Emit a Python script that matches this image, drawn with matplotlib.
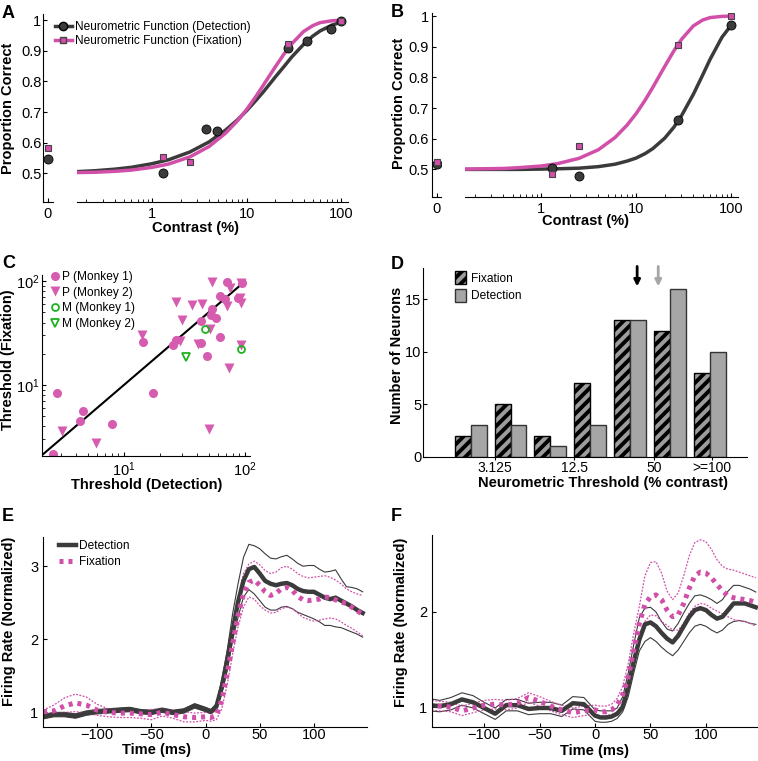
import numpy as np
import matplotlib.pyplot as plt
from matplotlib.lines import Line2D
from matplotlib.patches import Patch
from matplotlib.ticker import NullFormatter

plt.rcParams['font.family'] = ['Liberation Sans', 'DejaVu Sans']
plt.rcParams['mathtext.fontset'] = 'custom'
plt.rcParams['mathtext.rm'] = 'Liberation Sans'
plt.rcParams['mathtext.default'] = 'rm'
plt.rcParams['hatch.color'] = 'black'
plt.rcParams['hatch.linewidth'] = 2.8
plt.rcParams['xtick.direction'] = 'in'
plt.rcParams['ytick.direction'] = 'in'
plt.rcParams['font.size'] = 10.5

DARK = '#3b3b3b'
PINK = '#d14fa9'
GREEN = '#1fb21f'

# ---------------- data ----------------
# A: neurometric functions (example neuron 1)
a_det_x = [1.3, 3.7, 4.9, 27.5, 43.6, 78, 100]
a_det_y = [0.503, 0.646, 0.638, 0.908, 0.931, 0.971, 0.997]
a_fix_x = [1.3, 2.5, 27.5, 100]
a_fix_y = [0.554, 0.537, 0.922, 0.998]
a_zero_det, a_zero_fix = 0.546, 0.583

# B: neurometric functions (example neuron 2)
b_det_x = [1.3, 2.5, 27.7, 100]
b_det_y = [0.505, 0.477, 0.66, 0.972]
b_fix_x = [1.3, 2.5, 27.7, 100]
b_fix_y = [0.486, 0.577, 0.907, 1.0]
b_zero_det, b_zero_fix = 0.516, 0.524

# fitted curves
curve_x = [0.16, 0.25, 0.4, 0.6, 1, 1.5, 2.5, 4, 6, 8, 10, 12.5, 15, 20, 25, 30, 40, 50, 60, 80, 100]
a_det_curve = [0.506, 0.509, 0.514, 0.520, 0.532, 0.545, 0.570, 0.603, 0.642, 0.675, 0.705, 0.738,
               0.766, 0.814, 0.850, 0.880, 0.921, 0.948, 0.965, 0.984, 0.993]
a_fix_curve = [0.503, 0.504, 0.507, 0.511, 0.520, 0.531, 0.554, 0.588, 0.632, 0.672, 0.709, 0.751,
               0.788, 0.847, 0.891, 0.923, 0.963, 0.982, 0.992, 0.998, 1.0]
b_det_curve = [0.500, 0.500, 0.500, 0.500, 0.501, 0.502, 0.504, 0.509, 0.517, 0.527, 0.537, 0.552,
               0.568, 0.602, 0.638, 0.675, 0.745, 0.807, 0.859, 0.931, 0.970]
b_fix_curve = [0.501, 0.502, 0.503, 0.506, 0.511, 0.519, 0.536, 0.564, 0.604, 0.644, 0.682, 0.727,
               0.768, 0.836, 0.887, 0.924, 0.968, 0.987, 0.995, 0.999, 1.0]

# C: thresholds (detection, fixation)
p1_det = [70.6, 95, 62, 68.4, 88, 53.7, 52.4, 57.5, 43, 62, 43, 48.2, 26.9, 25.5, 14.4, 17.5,
          2.81, 4.61, 4.33, 7.9, 2.6]
p1_fix = [97.8, 97, 71.6, 67.6, 69, 54, 47.6, 44.2, 41, 29, 25.3, 19.1, 27.3, 24.4, 25.9, 8.42,
          8.42, 5.64, 4.49, 4.19, 2.15]
p2_det = [53.7, 75, 92, 26.9, 36.7, 44.4, 71.5, 91, 92.7, 30, 51.4, 29, 41.1, 92, 74, 14.2,
          50.7, 3.05, 5.84]
p2_fix = [97.8, 86, 96.4, 62.7, 59.4, 60.8, 57.3, 69, 61.6, 41.9, 34.6, 26.7, 24.9, 24.4, 14.5,
          30.5, 3.72, 3.6, 2.73]
m1_det = [46.7, 92]
m1_fix = [34.8, 22.2]
m2_det = [32.5]
m2_fix = [18.4]

# D: histogram of thresholds
bin_labels = ['3.125', '12.5', '50', '>=100']
fix_counts = [2, 5, 2, 7, 13, 12, 8]
det_counts = [3, 3, 1, 3, 13, 16, 10]
median_fix_bin = 4.18
median_det_bin = 4.71

# E / F: population firing rate
time_ms = [-150, -140, -130, -120, -110, -100, -90, -80, -70, -60, -50, -40, -30, -20, -10,
           0, 5, 10, 15, 20, 25, 30, 35, 40, 45, 50, 55, 60, 65, 70, 75, 80, 85, 90, 95,
           100, 105, 110, 115, 120, 125, 130, 135, 140, 145]

e_det = [0.94, 0.97, 0.97, 0.95, 0.99, 1.01, 1.02, 1.03, 1.04, 1.01, 1.00, 1.03, 1.00, 1.02, 1.09,
         1.04, 1.01, 1.08, 1.35, 1.71, 2.12, 2.51, 2.80, 2.96, 2.99, 2.90, 2.80, 2.76, 2.74, 2.76,
         2.77, 2.74, 2.69, 2.66, 2.65, 2.65, 2.61, 2.57, 2.55, 2.57, 2.53, 2.49, 2.45, 2.40, 2.36]
e_det_hi = [0.97, 1.00, 1.00, 0.98, 1.02, 1.04, 1.05, 1.06, 1.07, 1.04, 1.03, 1.06, 1.03, 1.05, 1.12,
            1.07, 1.04, 1.12, 1.45, 1.85, 2.35, 2.76, 3.12, 3.30, 3.28, 3.24, 3.17, 3.11, 3.10, 3.13,
            3.15, 3.10, 3.04, 3.00, 3.01, 3.01, 2.96, 2.92, 2.93, 2.95, 2.83, 2.72, 2.71, 2.69, 2.65]
e_det_lo = [0.91, 0.94, 0.94, 0.92, 0.96, 0.98, 0.99, 1.00, 1.01, 0.98, 0.97, 1.00, 0.97, 0.99, 1.06,
            1.01, 0.98, 1.04, 1.25, 1.57, 1.99, 2.30, 2.58, 2.68, 2.62, 2.53, 2.44, 2.40, 2.40, 2.44,
            2.45, 2.42, 2.37, 2.34, 2.31, 2.28, 2.24, 2.19, 2.19, 2.17, 2.16, 2.13, 2.10, 2.07, 2.03]
e_fix = [1.01, 1.02, 1.09, 1.13, 1.10, 1.03, 1.00, 0.99, 0.99, 0.98, 0.97, 1.00, 0.97, 0.94, 0.93,
         0.94, 0.93, 0.96, 1.17, 1.53, 1.94, 2.33, 2.62, 2.78, 2.81, 2.74, 2.65, 2.60, 2.63, 2.69,
         2.71, 2.67, 2.59, 2.54, 2.53, 2.54, 2.55, 2.58, 2.57, 2.54, 2.51, 2.49, 2.44, 2.39, 2.34]
e_fix_hi = [1.03, 1.10, 1.20, 1.25, 1.21, 1.11, 1.05, 1.04, 1.03, 1.02, 1.04, 1.05, 1.03, 1.01, 0.99,
            1.00, 0.99, 1.03, 1.30, 1.70, 2.08, 2.55, 2.90, 3.03, 3.07, 3.02, 2.94, 2.90, 2.92, 2.98,
            3.00, 2.96, 2.90, 2.86, 2.84, 2.85, 2.86, 2.87, 2.85, 2.81, 2.76, 2.69, 2.65, 2.62, 2.60]
e_fix_lo = [0.99, 0.99, 1.00, 1.01, 0.99, 0.96, 0.94, 0.93, 0.93, 0.92, 0.90, 0.95, 0.92, 0.87, 0.87,
            0.89, 0.88, 0.90, 1.05, 1.38, 1.80, 2.17, 2.44, 2.58, 2.55, 2.46, 2.40, 2.36, 2.37, 2.42,
            2.44, 2.42, 2.36, 2.30, 2.27, 2.25, 2.26, 2.28, 2.29, 2.28, 2.24, 2.19, 2.15, 2.10, 2.05]

f_det = [1.02, 1.01, 1.03, 1.08, 1.05, 0.99, 0.93, 1.02, 1.02, 0.98, 0.99, 0.99, 0.96, 1.04, 1.03,
         0.91, 0.89, 0.89, 0.90, 0.93, 1.00, 1.22, 1.48, 1.71, 1.87, 1.89, 1.85, 1.78, 1.72, 1.68,
         1.75, 1.85, 1.95, 2.02, 2.04, 2.02, 1.97, 1.93, 1.95, 2.02, 2.09, 2.09, 2.09, 2.07, 2.05]
f_det_hi = [1.09, 1.07, 1.10, 1.15, 1.12, 1.05, 0.99, 1.08, 1.08, 1.04, 1.05, 1.05, 1.02, 1.11, 1.10,
            0.97, 0.96, 0.96, 0.96, 0.99, 1.11, 1.36, 1.66, 1.94, 2.04, 2.05, 2.00, 1.90, 1.82, 1.80,
            1.88, 1.99, 2.09, 2.17, 2.18, 2.16, 2.13, 2.09, 2.13, 2.22, 2.28, 2.28, 2.26, 2.24, 2.21]
f_det_lo = [0.96, 0.95, 0.97, 1.02, 0.99, 0.93, 0.87, 0.96, 0.96, 0.92, 0.93, 0.93, 0.90, 0.98, 0.97,
            0.85, 0.84, 0.84, 0.85, 0.88, 0.95, 1.11, 1.36, 1.59, 1.69, 1.73, 1.69, 1.63, 1.58, 1.54,
            1.60, 1.69, 1.78, 1.85, 1.87, 1.85, 1.81, 1.78, 1.81, 1.87, 1.90, 1.91, 1.90, 1.88, 1.87]
f_fix = [1.02, 1.01, 1.00, 0.96, 0.99, 1.02, 1.03, 1.02, 1.04, 1.10, 1.06, 1.01, 0.97, 0.94, 0.96,
         0.97, 0.95, 0.95, 0.97, 1.02, 1.13, 1.32, 1.60, 1.88, 2.08, 2.16, 2.18, 2.13, 2.02, 1.95,
         1.97, 2.09, 2.25, 2.38, 2.42, 2.41, 2.36, 2.29, 2.22, 2.17, 2.15, 2.14, 2.13, 2.12, 2.10]
f_fix_hi = [1.07, 1.06, 1.05, 1.01, 1.04, 1.07, 1.08, 1.07, 1.09, 1.15, 1.11, 1.06, 1.02, 0.99, 1.01,
            1.02, 1.01, 1.01, 1.03, 1.09, 1.22, 1.46, 1.78, 2.06, 2.38, 2.52, 2.53, 2.41, 2.22, 2.13,
            2.20, 2.38, 2.59, 2.73, 2.76, 2.74, 2.66, 2.55, 2.48, 2.45, 2.44, 2.42, 2.40, 2.38, 2.36]
f_fix_lo = [0.97, 0.96, 0.95, 0.91, 0.94, 0.97, 0.98, 0.97, 0.99, 1.05, 1.01, 0.96, 0.92, 0.89, 0.91,
            0.92, 0.91, 0.91, 0.92, 0.94, 1.04, 1.22, 1.46, 1.74, 1.90, 1.97, 1.96, 1.90, 1.86, 1.81,
            1.81, 1.88, 1.99, 2.06, 2.09, 2.08, 2.04, 2.01, 1.98, 1.95, 1.92, 1.91, 1.90, 1.88, 1.85]

# ---------------- layout ----------------
W, H = 758, 761
fig = plt.figure(figsize=(W / 100, H / 100), dpi=100)


def box(l, t, r, b):
    return [l / W, 1 - b / H, (r - l) / W, (b - t) / H]


def fx(px):
    return px / W


def fy(py):
    return 1 - py / H


def clean(ax):
    ax.spines['top'].set_visible(False)
    ax.spines['right'].set_visible(False)


LBL = dict(fontsize=10.5, fontweight='bold', ha='center', va='center')


def psych_panel(zl, zr, ml, mr, top, bot, ylo, yhi, dx, dy, fxx, fyy, dc, fc, z_det, z_fix, ypad):
    ax0 = fig.add_axes(box(zl, top, zr, bot))
    ax = fig.add_axes(box(ml, top, mr, bot))
    clean(ax0)
    ax0.plot([0], [z_det], 'o', ms=6.5, mfc=DARK, mec='black', mew=0.6)
    ax0.plot([0], [z_fix], 's', ms=5, mfc=PINK, mec='#444444', mew=0.8)
    ax0.set_xlim(-1, 1)
    ax0.set_ylim(ylo, yhi)
    ax0.set_xticks([0])
    ax0.set_yticks([0.5, 0.6, 0.7, 0.8, 0.9, 1.0])
    ax0.set_yticklabels(['0.5', '0.6', '0.7', '0.8', '0.9', '1'])
    ax0.tick_params(length=3)
    ax0.tick_params(axis='y', pad=ypad)

    ax.set_xscale('log')
    ax.plot(curve_x, dc, color=DARK, lw=2.5, zorder=2)
    ax.plot(curve_x, fc, color=PINK, lw=2.5, zorder=2)
    ax.plot(dx, dy, 'o', ms=6.5, mfc=DARK, mec='black', mew=0.6, zorder=3)
    ax.plot(fxx, fyy, 's', ms=5, mfc=PINK, mec='#444444', mew=0.8, zorder=4)
    ax.set_ylim(ylo, yhi)
    for s in ['top', 'right', 'left']:
        ax.spines[s].set_visible(False)
    ax.set_yticks([])
    ax.set_xticks([1, 10, 100])
    ax.set_xticklabels(['1', '10', '100'])
    ax.xaxis.set_minor_formatter(NullFormatter())
    ax.tick_params(which='major', length=3)
    ax.tick_params(which='minor', length=2)
    return ax0, ax


# ---- A ----
axA0, axA = psych_panel(43, 53, 77, 348, 14, 202, 0.407, 1.02,
                        a_det_x, a_det_y, a_fix_x, a_fix_y, a_det_curve, a_fix_curve,
                        a_zero_det, a_zero_fix, 1.2)
axA.set_xlim(0.16, 118)
handles = [Line2D([], [], color=DARK, lw=2.5, marker='o', ms=6, mfc=DARK, mec='black'),
           Line2D([], [], color=PINK, lw=2.5, marker='s', ms=5, mfc=PINK, mec='#444444')]
fig.legend(handles, ['Neurometric Function (Detection)', 'Neurometric Function (Fixation)'],
           loc='upper left', bbox_to_anchor=(fx(55), fy(21)), frameon=False, fontsize=8.6,
           handlelength=1.4, handletextpad=0.25, labelspacing=0.2, borderpad=0, borderaxespad=0)
fig.text(fx(8), fy(108), 'Proportion Correct', rotation=90, **LBL)
fig.text(fx(195), fy(228), 'Contrast (%)', **LBL)

# ---- B ----
axB0, axB = psych_panel(432, 441, 465, 738, 13, 197, 0.41, 1.01,
                        b_det_x, b_det_y, b_fix_x, b_fix_y, b_det_curve, b_fix_curve,
                        b_zero_det, b_zero_fix, 2.0)
axB.set_xlim(0.158, 118)
fig.text(fx(399), fy(103), 'Proportion Correct', rotation=90, **LBL)
fig.text(fx(585), fy(221), 'Contrast (%)', **LBL)

# ---- C ----
axC = fig.add_axes(box(42, 275, 250, 456))
clean(axC)
axC.set_xscale('log')
axC.set_yscale('log')
axC.plot([2, 100], [2, 100], color='black', lw=1.5, zorder=1)
axC.plot(p1_det, p1_fix, 'o', ms=6.5, color='#d55caf', mec='none', zorder=2)
axC.plot(p2_det, p2_fix, 'v', ms=7, color='#d55caf', mec='none', zorder=2)
axC.plot(m1_det, m1_fix, 'o', ms=5, mfc='none', mec=GREEN, mew=1.3, zorder=3)
axC.plot(m2_det, m2_fix, 'v', ms=6, mfc='none', mec=GREEN, mew=1.3, zorder=3)
axC.set_xlim(2.1, 110)
axC.set_ylim(2.06, 115)
axC.set_xticks([10, 100])
axC.set_xticklabels(['$10^1$', '$10^2$'])
axC.set_yticks([10, 100])
axC.set_yticklabels(['$10^1$', '$10^2$'])
axC.xaxis.set_minor_formatter(NullFormatter())
axC.yaxis.set_minor_formatter(NullFormatter())
axC.tick_params(which='major', length=3)
axC.tick_params(which='minor', length=2)
axC.tick_params(axis='y', which='both', pad=1.5)
handles = [Line2D([], [], ls='none', marker='o', ms=6.5, color='#d55caf', mec='none'),
           Line2D([], [], ls='none', marker='v', ms=7, color='#d55caf', mec='none'),
           Line2D([], [], ls='none', marker='o', ms=5, mfc='none', mec=GREEN, mew=1.3),
           Line2D([], [], ls='none', marker='v', ms=6, mfc='none', mec=GREEN, mew=1.3)]
axC.legend(handles, ['P (Monkey 1)', 'P (Monkey 2)', 'M (Monkey 1)', 'M (Monkey 2)'],
           loc='upper left', bbox_to_anchor=(fx(51), fy(271)), bbox_transform=fig.transFigure,
           frameon=False, fontsize=8.6, handlelength=0.7, handletextpad=0.2, labelspacing=0.3,
           borderpad=0, borderaxespad=0)
fig.text(fx(8), fy(360), 'Threshold (Fixation)', rotation=90, **LBL)
fig.text(fx(147), fy(485), 'Threshold (Detection)', **LBL)

# ---- D ----
axD = fig.add_axes(box(423, 268, 747, 457))
clean(axD)
pos = np.arange(len(fix_counts))
axD.bar(pos - 0.2, fix_counts, width=0.4, color='#9c9c9c', edgecolor='black', hatch='///', lw=1)
axD.bar(pos + 0.2, det_counts, width=0.4, color='#a6a6a6', edgecolor='#333333', lw=1)
axD.set_xlim(-1.2, 6.94)
axD.set_ylim(0, 17.95)
axD.set_yticks([0, 5, 10, 15])
axD.set_xticks([0.6, 2.6, 4.6, 6.06])
axD.set_xticklabels(bin_labels, fontsize=10)
axD.tick_params(axis='x', direction='out', length=2, pad=0.8)
axD.tick_params(axis='y', length=3, pad=1.0)
for xm, col in [(median_fix_bin, 'black'), (median_det_bin, '#a6a6a6')]:
    axD.annotate('', xy=(xm, 16.2), xytext=(xm, 18.1),
                 arrowprops=dict(arrowstyle='-|>', color=col, lw=2, mutation_scale=9,
                                 shrinkA=0, shrinkB=0),
                 annotation_clip=False)
handles = [Patch(facecolor='#9c9c9c', edgecolor='black', hatch='///'),
           Patch(facecolor='#a6a6a6', edgecolor='#333333')]
axD.legend(handles, ['Fixation', 'Detection'], loc='upper left',
           bbox_to_anchor=(fx(455), fy(271)), bbox_transform=fig.transFigure, frameon=False,
           fontsize=8.6, handlelength=0.9, handleheight=1.3, handletextpad=0.4,
           labelspacing=0.35, borderpad=0, borderaxespad=0)
fig.text(fx(397), fy(355), 'Number of Neurons', rotation=90, **LBL)
fig.text(fx(603), fy(483), 'Neurometric Threshold (% contrast)', **LBL)


# ---- E / F ----
def rate_panel(ax, det, det_hi, det_lo, fix, fix_hi, fix_lo):
    clean(ax)
    ax.plot(time_ms, det_hi, color=DARK, lw=0.8)
    ax.plot(time_ms, det_lo, color=DARK, lw=0.8)
    ax.plot(time_ms, fix_hi, color=PINK, lw=0.9, ls=(0, (1.5, 1.2)))
    ax.plot(time_ms, fix_lo, color=PINK, lw=0.9, ls=(0, (1.5, 1.2)))
    ax.plot(time_ms, det, color=DARK, lw=3.2)
    ax.plot(time_ms, fix, color=PINK, lw=3.6, ls=(0, (0.8, 1.0)))
    ax.set_xticks([-100, -50, 0, 50, 100])
    ax.set_xticklabels(['\u2212100', '\u221250', '0', '50', '100'])
    ax.tick_params(length=3)
    ax.tick_params(axis='x', pad=0.8)


axE = fig.add_axes(box(43, 537, 367, 727))
rate_panel(axE, e_det, e_det_hi, e_det_lo, e_fix, e_fix_hi, e_fix_lo)
axE.set_xlim(-150, 149)
axE.set_ylim(0.8, 3.4)
axE.set_yticks([1, 2, 3])
handles = [Line2D([], [], color=DARK, lw=3.2),
           Line2D([], [], color=PINK, lw=3.6, ls=(0, (0.8, 1.0)))]
axE.legend(handles, ['Detection', 'Fixation'], loc='upper left',
           bbox_to_anchor=(fx(59), fy(540)), bbox_transform=fig.transFigure, frameon=False,
           fontsize=8.6, handlelength=1.4, handletextpad=0.3, labelspacing=0.35,
           borderpad=0, borderaxespad=0)
fig.text(fx(9), fy(621), 'Firing Rate (Normalized)', rotation=90, **LBL)
fig.text(fx(157), fy(750), 'Time (ms)', **LBL)

axF = fig.add_axes(box(432, 535, 758, 727))
rate_panel(axF, f_det, f_det_hi, f_det_lo, f_fix, f_fix_hi, f_fix_lo)
axF.set_xlim(-147, 147)
axF.set_ylim(0.79, 2.81)
axF.set_yticks([1, 2])
fig.text(fx(401), fy(622), 'Firing Rate (Normalized)', rotation=90, **LBL)
fig.text(fx(595), fy(751), 'Time (ms)', **LBL)

# panel letters
for letter, (px, py) in zip('ABCDEF', [(2, 5), (391, 4), (2, 255), (391, 256), (2, 508), (391, 508)]):
    fig.text(fx(px), fy(py), letter, fontsize=13, fontweight='bold', ha='left', va='top')

fig.savefig('out.png', dpi=100)
